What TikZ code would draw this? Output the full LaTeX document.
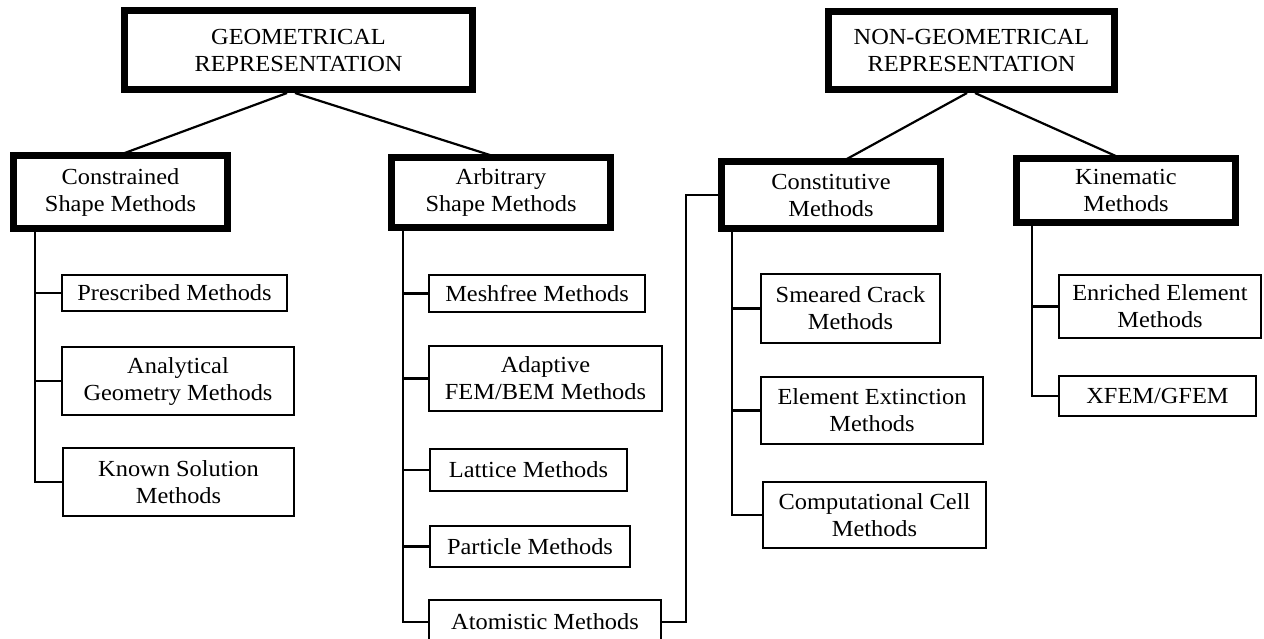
\documentclass[tikz,border=0pt]{standalone}
\usepackage{fontspec}
\setmainfont{Liberation Serif}[FakeStretch=1.06]
\begin{document}
\begin{tikzpicture}[x=1pt,y=-1pt,
  every node/.style={font=\fontsize{23}{27}\selectfont, align=center, inner sep=0pt},
  bigbox/.style={draw, line width=7pt, fill=white},
  smallbox/.style={draw, line width=1.8pt, fill=white},
  link/.style={line width=2.2pt},
  trunk/.style={line width=2.5pt, line cap=rect},
  thinlink/.style={line width=1.5pt}]
\useasboundingbox (0,0) rectangle (1264,638);
\fill[white] (0,0) rectangle (1264,638);
% connectors first
\coordinate (g1) at (287,93);
\coordinate (g2) at (295,93);
\coordinate (n1) at (967,93);
\coordinate (n2) at (975,93);
\coordinate (c1) at (122,154);
\coordinate (a1) at (493,156);
\coordinate (k1) at (845,160);
\coordinate (m1) at (1118,157);
\draw[link] (g1) -- (c1);
\draw[link] (g2) -- (a1);
\draw[link] (n1) -- (k1);
\draw[link] (n2) -- (m1);

% top level
\node[bigbox, minimum width=348pt, minimum height=79pt] (geo) at (298.5,50) {GEOMETRICAL\\REPRESENTATION};
\node[bigbox, minimum width=286pt, minimum height=78pt] (nongeo) at (971.5,50.5) {NON-GEOMETRICAL\\REPRESENTATION};

% second level
\node[bigbox, minimum width=214pt, minimum height=73pt] (constrained) at (120.5,192) {Constrained\\Shape Methods};
\node[bigbox, minimum width=219pt, minimum height=70pt] (arbitrary) at (501,192.5) {Arbitrary\\Shape Methods};
\node[bigbox, minimum width=219pt, minimum height=67pt] (constitutive) at (831,195) {Constitutive\\Methods};
\node[bigbox, minimum width=219pt, minimum height=64pt] (kinematic) at (1126,190.5) {Kinematic\\Methods};

% leaves
\node[smallbox, minimum width=225pt, minimum height=36pt] (prescribed) at (174.5,293) {Prescribed Methods};
\node[smallbox, minimum width=232pt, minimum height=68pt] (analytical) at (178,381) {Analytical\\Geometry Methods};
\node[smallbox, minimum width=231pt, minimum height=68pt] (known) at (178.5,482) {Known Solution\\Methods};

\node[smallbox, minimum width=216pt, minimum height=37pt] (meshfree) at (537,293.5) {Meshfree Methods};
\node[smallbox, minimum width=233pt, minimum height=65pt] (adaptive) at (545.5,378.5) {Adaptive\\FEM/BEM Methods};
\node[smallbox, minimum width=197pt, minimum height=42pt] (lattice) at (528.5,470) {Lattice Methods};
\node[smallbox, minimum width=200pt, minimum height=41pt] (particle) at (530,546.5) {Particle Methods};
\node[smallbox, minimum width=232pt, minimum height=44pt] (atomistic) at (545,622) {Atomistic Methods};

\node[smallbox, minimum width=179pt, minimum height=69pt] (smeared) at (850.5,308.5) {Smeared Crack\\Methods};
\node[smallbox, minimum width=222pt, minimum height=67pt] (extinction) at (872,410.5) {Element Extinction\\Methods};
\node[smallbox, minimum width=223pt, minimum height=66pt] (computational) at (874.5,515) {Computational Cell\\Methods};

\node[smallbox, minimum width=202pt, minimum height=63pt] (enriched) at (1160,306.5) {Enriched Element\\Methods};
\node[smallbox, minimum width=197pt, minimum height=40pt] (xfem) at (1157.5,396) {XFEM/GFEM};

% trunks
\coordinate (t1) at (35,232);
\coordinate (t2) at (403,231);
\coordinate (t3) at (732,232);
\coordinate (t4) at (1032,226);
\draw[trunk] (t1) |- (known.west);
\draw[trunk] (t1 |- prescribed.west) -- (prescribed.west);
\draw[trunk] (t1 |- analytical.west) -- (analytical.west);

\draw[trunk] (t2) |- (atomistic.west);
\draw[trunk] (t2 |- meshfree.west) -- (meshfree.west);
\draw[trunk] (t2 |- adaptive.west) -- (adaptive.west);
\draw[trunk] (t2 |- lattice.west) -- (lattice.west);
\draw[trunk] (t2 |- particle.west) -- (particle.west);

\draw[trunk] (t3) |- (computational.west);
\draw[trunk] (t3 |- smeared.west) -- (smeared.west);
\draw[trunk] (t3 |- extinction.west) -- (extinction.west);

\draw[trunk] (t4) |- (xfem.west);
\draw[trunk] (t4 |- enriched.west) -- (enriched.west);

% atomistic to constitutive
\coordinate (r1) at (686,622);
\draw[thinlink] (atomistic.east) -- (r1) |- (constitutive.west);
\end{tikzpicture}
\end{document}
